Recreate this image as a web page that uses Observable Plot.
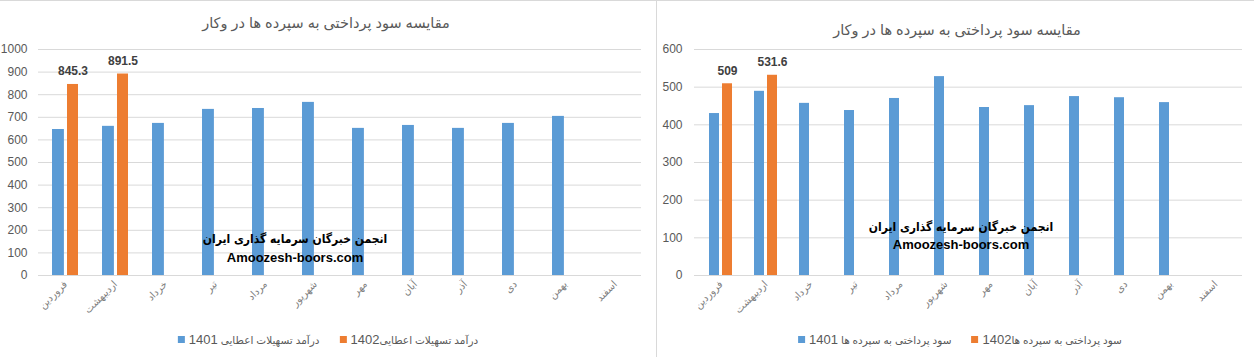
<!DOCTYPE html>
<html>
<head>
<meta charset="utf-8">
<script src="https://cdn.jsdelivr.net/npm/d3@7"></script>
<script src="https://cdn.jsdelivr.net/npm/@observablehq/plot@0.6"></script>
<style>
  html, body { margin: 0; padding: 0; background: #fff; }
  body { width: 1254px; height: 357px; position: relative; overflow: hidden; font-family: "Liberation Sans", "DejaVu Sans", sans-serif; }
  .panel { position: absolute; top: 0; height: 357px; }
  .panel svg { position: absolute; left: 0; top: 0; }
  .title { position: absolute; transform: translate(-50%, -50%); white-space: nowrap; font-size: 14.5px; color: #595959; direction: rtl; }
  .wm { position: absolute; transform: translate(-50%, -50%); white-space: nowrap; font-weight: bold; color: #000; font-size: 13px; text-align: center; }
  .wm.fa { font-family: "DejaVu Sans Condensed", "DejaVu Sans", sans-serif; font-stretch: condensed; font-size: 12px; }
  .legend { position: absolute; transform: translateX(-50%); top: 332px; white-space: nowrap; display: flex; align-items: center; font-size: 10.5px; color: #595959; direction: ltr; }
  .legend .sw { display: inline-block; width: 7px; height: 7px; margin-right: 4px; }
  .legend .it { display: inline-flex; align-items: center; margin: 0 10px; }
  .legend .tx { unicode-bidi: isolate; }
  .legend .num { font-size: 13px; }
  [aria-label^="x-axis"] { fill: #7f7f7f; font-size: 10px; }
  [aria-label^="y-axis"] { fill: #595959; font-size: 12px; }
  .border-top { position: absolute; left: 0; top: 0; width: 1254px; height: 1px; background: #d9d9d9; }
  .border-v { position: absolute; left: 656px; top: 0; width: 1px; height: 357px; background: #d9d9d9; }
</style>
</head>
<body>
<div class="border-top"></div>
<div class="border-v"></div>
<div id="left" class="panel" style="left:0;width:656px"></div>
<div id="right" class="panel" style="left:657px;width:597px"></div>
<script>
const months = ["فروردین","اردیبهشت","خرداد","تیر","مرداد","شهریور","مهر","آبان","آذر","دی","بهمن","اسفند"];

const loan1401 = [646, 660, 673, 735, 739, 766, 651, 664, 651, 673, 704, null];
const loan1402 = [845.3, 891.5, null, null, null, null, null, null, null, null, null, null];
const dep1401 = [430, 489, 457, 438, 470, 528, 446, 451, 475, 472, 459, null];
const dep1402 = [509, 531.6, null, null, null, null, null, null, null, null, null, null];

const leftTicks = [0, 100, 200, 300, 400, 500, 600, 700, 800, 900, 1000];
const rightTicks = [0, 100, 200, 300, 400, 500, 600];

const title = "مقایسه سود پرداختی به سپرده ها در وکار";
const leftLegend = [["درآمد تسهیلات اعطایی ", "1401"], ["درآمد تسهیلات اعطایی", "1402"]];
const rightLegend = [["سود پرداختی به سپرده ها ", "1401"], ["سود پرداختی به سپرده ها", "1402"]];
const wm1 = "انجمن خبرگان سرمایه گذاری ایران";
const wm2 = "Amoozesh-boors.com";

const BLUE = "#5b9bd5", ORANGE = "#ed7d31", GRID = "#d9d9d9";

function rows(arr) {
  return months.map((m, i) => ({month: m, value: arr[i]})).filter(d => d.value != null);
}

function makeChart(opts) {
  const {width, marginLeft, marginRight, domain, ticks, a, b, pIn, pOut, insA, insB, dx, tickPad} = opts;
  return Plot.plot({
    width, height: 320,
    marginTop: 49, marginBottom: 45, marginLeft, marginRight,
    style: {fontFamily: '"Liberation Sans", "DejaVu Sans", sans-serif', background: "transparent", overflow: "visible"},
    x: {type: "band", domain: months, paddingInner: pIn, paddingOuter: pOut, tickRotate: -45, tickSize: 0, tickPadding: 7, label: null},
    y: {domain, ticks, tickSize: 0, tickPadding: tickPad, tickFormat: d => String(d), label: null},
    marks: [
      Plot.ruleY(ticks, {stroke: GRID, strokeWidth: 1}),
      Plot.barY(rows(a), {x: "month", y: "value", fill: BLUE, insetRight: insA}),
      Plot.barY(rows(b), {x: "month", y: "value", fill: ORANGE, insetLeft: insB}),
      Plot.text(rows(b), {x: "month", y: "value", text: d => String(d.value), dx, dy: -13, fontWeight: "bold", fill: "#404040", fontSize: 12})
    ]
  });
}

function addPanel(id, chart, titleX, titleY, legendItems, legendX, wmX, wmY1, wmY2) {
  const el = document.getElementById(id);
  el.appendChild(chart);
  const t = document.createElement("div");
  t.className = "title"; t.textContent = title;
  t.style.left = titleX + "px"; t.style.top = titleY + "px";
  el.appendChild(t);
  const w1 = document.createElement("div");
  w1.className = "wm fa"; w1.textContent = wm1; w1.style.direction = "rtl";
  w1.style.left = wmX + "px"; w1.style.top = wmY1 + "px";
  el.appendChild(w1);
  const w2 = document.createElement("div");
  w2.className = "wm"; w2.textContent = wm2;
  w2.style.left = wmX + "px"; w2.style.top = wmY2 + "px";
  el.appendChild(w2);
  const lg = document.createElement("div");
  lg.className = "legend"; lg.style.left = legendX + "px";
  [[BLUE, legendItems[0]], [ORANGE, legendItems[1]]].forEach(([c, [txt, num]]) => {
    const it = document.createElement("span"); it.className = "it";
    const sw = document.createElement("span"); sw.className = "sw"; sw.style.background = c;
    const tx = document.createElement("span"); tx.className = "tx"; tx.dir = "rtl";
    tx.appendChild(document.createTextNode(txt));
    const n = document.createElement("span"); n.className = "num"; n.textContent = num;
    tx.appendChild(n);
    it.appendChild(sw); it.appendChild(tx); lg.appendChild(it);
  });
  el.appendChild(lg);
}

const leftChart = makeChart({width: 656, marginLeft: 38, marginRight: 15, domain: [0, 1000], ticks: leftTicks,
  a: loan1401, b: loan1402, pIn: 0.48, pOut: 0.24, insA: 14.1, insB: 15, dx: 7.5, tickPad: 11});
const rightChart = makeChart({width: 597, marginLeft: 37, marginRight: 12, domain: [0, 600], ticks: rightTicks,
  a: dep1401, b: dep1402, pIn: 0.496, pOut: 0.248, insA: 13, insB: 13, dx: 6.5, tickPad: 12});

addPanel("left", leftChart, 326, 23, leftLegend, 328, 295, 239, 257);
addPanel("right", rightChart, 300, 30, rightLegend, 303, 304, 227, 244);
</script>
</body>
</html>
